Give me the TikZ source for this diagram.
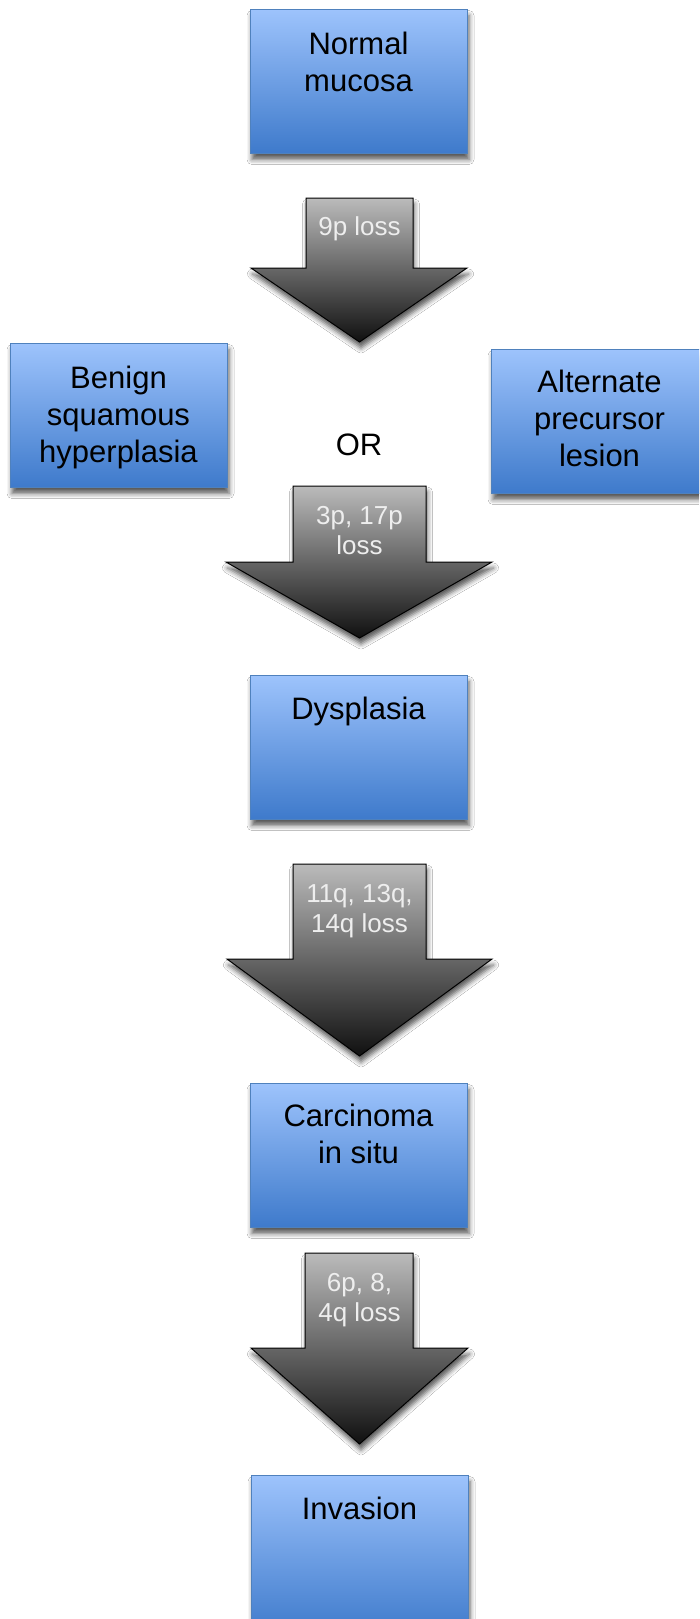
\documentclass[tikz,border=0pt]{standalone}
\usepackage{fontspec}
\setmainfont{Liberation Sans}
\usetikzlibrary{shadows.blur}
\definecolor{boxtop}{HTML}{9DC3FC}
\definecolor{boxmid}{HTML}{75A3E6}
\definecolor{boxbot}{HTML}{3E7ACB}
\definecolor{boxline}{HTML}{4F81BD}
\definecolor{arrtop}{HTML}{BBBBBB}
\definecolor{arrmid}{HTML}{777777}
\definecolor{arrbot}{HTML}{101010}
\definecolor{arrtext}{HTML}{EEEEEE}
\tikzset{
  softshadow/.style={blur shadow={shadow xshift=1.5pt, shadow yshift=-6pt, shadow blur radius=5pt, shadow opacity=65}},
  stagebox/.style={draw=boxline, line width=1pt, top color=boxtop, middle color=boxmid, bottom color=boxbot,
    minimum width=217pt, minimum height=144pt, inner sep=0pt, anchor=north west, softshadow},
  boxlbl/.style={font=\fontsize{31}{37}\selectfont, align=center, inner sep=0pt, anchor=north, text=black},
  blockarrow/.style={draw=black, line width=1pt, line join=miter, top color=arrtop, middle color=arrmid, bottom color=arrbot, softshadow},
  arrowlbl/.style={font=\fontsize{26}{30.5}\selectfont, align=center, inner sep=0pt, anchor=north, text=arrtext},
}
\begin{document}
\begin{tikzpicture}[x=1pt,y=-1pt]
\useasboundingbox (0,0) rectangle (699,1619);
\clip (0,0) rectangle (699,1619);
\fill[white] (0,0) rectangle (699,1619);

% boxes
\node[stagebox] (nm) at (250,9) {};
\node[stagebox] (ben) at (10,343) {};
\node[stagebox] (alt) at (491,349) {};
\node[stagebox] (dys) at (250,675) {};
\node[stagebox] (car) at (250,1083) {};
\node[stagebox, minimum height=160pt] (inv) at (251,1475) {};

% box labels
\node[boxlbl] (nmt) at (358.5,31.6) {Normal\\mucosa};
\node[boxlbl] (bent) at (118.5,365.6) {Benign\\squamous\\hyperplasia};
\node[boxlbl] (altt) at (599.5,369.6) {Alternate\\precursor\\lesion};
\node[boxlbl] (dyst) at (358.5,696.6) {Dysplasia};
\node[boxlbl] (cart) at (358.5,1103.6) {Carcinoma\\in situ};
\node[boxlbl] (invt) at (359.5,1496.6) {Invasion};
\node[font=\fontsize{31}{37}\selectfont, inner sep=0pt] (or) at (359,445) {OR};

% block arrows
\path[blockarrow] (306,198) -- (413,198) -- (413,268) -- (467,268) -- (359.5,342) -- (251,268) -- (306,268) -- cycle;
\path[blockarrow] (293,486) -- (426,486) -- (426,562) -- (492,562) -- (359.5,638) -- (226,562) -- (293,562) -- cycle;
\path[blockarrow] (293,864) -- (426,864) -- (426,959) -- (492,959) -- (359.5,1056) -- (227,959) -- (293,959) -- cycle;
\path[blockarrow] (305,1253) -- (413,1253) -- (413,1348) -- (468,1348) -- (359.5,1444) -- (251,1348) -- (305,1348) -- cycle;

% arrow labels
\node[arrowlbl] (a1) at (359.5,216.5) {9p loss};
\node[arrowlbl] (a2) at (359.5,505.7) {3p, 17p\\loss};
\node[arrowlbl] (a3) at (359.5,883.7) {11q, 13q,\\14q loss};
\node[arrowlbl] (a4) at (359.5,1272.7) {6p, 8,\\4q loss};
\end{tikzpicture}
\end{document}
